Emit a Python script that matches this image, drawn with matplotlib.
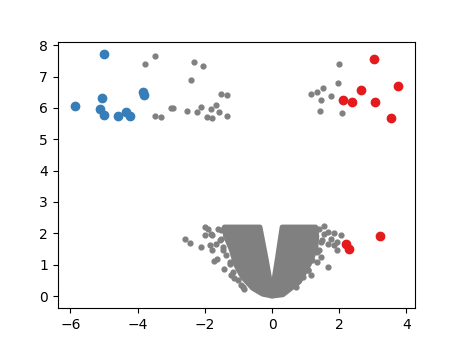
import numpy as np
import matplotlib
matplotlib.use('Agg')
import matplotlib.pyplot as plt

# significant down-regulated (blue)
down_x = [-4.99, -5.85, -5.07, -5.13, -4.99, -4.59, -4.35, -4.24, -3.83, -3.81]
down_y = [7.72, 6.07, 6.31, 5.96, 5.77, 5.74, 5.88, 5.73, 6.51, 6.40]

# significant up-regulated (red)
up_x = [3.03, 3.76, 2.66, 2.12, 2.37, 3.07, 3.55, 3.20, 2.21, 2.29]
up_y = [7.56, 6.71, 6.58, 6.26, 6.20, 6.20, 5.67, 1.92, 1.66, 1.49]

# non-significant genes outside the dense core (grey)
ns_x = [-3.77, -3.47, -3.47, -3.30, -3.00, -2.94, -2.54, -2.41, -2.31, -2.05,
        -2.22, -2.12, -1.94, -1.80, -1.81, -1.67, -1.58, -1.53, -1.35, -1.33,
        2.00, 1.97, 1.51, 1.17, 1.33, 1.46, 1.75, 1.43, 2.09,
        -2.59, -2.45, -2.12, -2.00, -2.00, -1.90, -1.83, -1.86, -1.80, -1.74,
        -1.63, -1.43, -1.21, -1.13, -0.92, -0.82, -1.66, -1.51, -1.46, -1.26,
        1.55, 1.65, 1.83, 2.04, 1.94, 1.84, 1.65, 1.50, 1.40, 1.45,
        1.35, 1.67, 1.15, 1.06, 1.94, 1.75,
        -1.61, -1.51, -1.80, -1.56, -1.46, -1.36, -1.26, -1.16, -1.01, -0.87,
        1.40, 1.55, 1.45, 1.35, 1.20, 1.06, 0.91, 0.71]
ns_y = [7.39, 7.65, 5.75, 5.70, 6.01, 5.99, 5.90, 6.88, 7.47, 7.35,
        5.88, 6.02, 5.71, 5.67, 5.97, 6.08, 5.88, 6.44, 6.41, 5.74,
        7.39, 6.81, 6.64, 6.45, 6.50, 6.27, 6.39, 5.91, 5.85,
        1.83, 1.69, 1.56, 1.94, 2.20, 2.15, 1.99, 1.62, 1.46, 1.11,
        1.17, 0.85, 0.68, 0.56, 0.34, 0.21, 1.67, 1.83, 1.46, 1.03,
        2.23, 2.04, 2.01, 1.94, 1.73, 1.62, 1.67, 1.78, 1.46, 1.25,
        1.09, 0.93, 0.66, 0.82, 1.46, 1.83,
        2.15, 2.10, 1.94, 1.78, 1.57, 1.30, 1.09, 0.77, 0.50, 0.29,
        2.15, 1.99, 1.73, 1.41, 1.14, 0.82, 0.61, 0.29]

# outline of the dense non-significant core (left and right lobes)
core_left_x = [-1.42, -1.38, -1.22, -1.08, -0.88, -0.58, -0.28, 0.0, -0.08, -0.18, -0.36]
core_left_y = [2.20, 1.90, 1.50, 1.00, 0.60, 0.25, 0.06, 0.0, 0.60, 1.20, 2.20]
core_right_x = [0.30, 1.30, 1.33, 1.30, 1.10, 0.81, 0.32, 0.0, 0.07, 0.16]
core_right_y = [2.20, 2.20, 1.90, 1.50, 1.00, 0.45, 0.04, 0.0, 0.60, 1.20]

fig, ax = plt.subplots(figsize=(4.61, 3.46), dpi=100)
grey = '#808080'
ax.fill(core_left_x, core_left_y, color=grey, lw=3.6, joinstyle='round')
ax.fill(core_right_x, core_right_y, color=grey, lw=3.6, joinstyle='round')
ax.scatter(ns_x, ns_y, s=12, color=grey)
ax.scatter(down_x, down_y, s=36, color='#377eb8')
ax.scatter(up_x, up_y, s=36, color='#e41a1c')
ax.set_xlim(-6.38, 4.25)
ax.set_ylim(-0.38, 8.12)
fig.savefig('out.png')
